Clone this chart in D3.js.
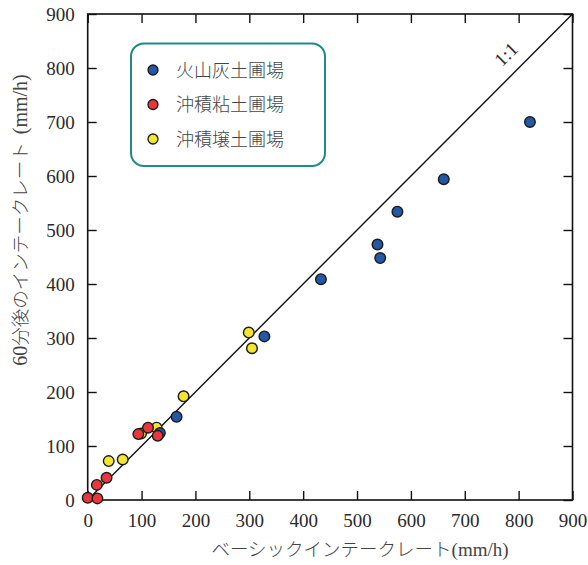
<!DOCTYPE html>
<html><head><meta charset="utf-8">
<script src="https://cdn.jsdelivr.net/npm/d3@7"></script>
<style>body{margin:0;background:#fff}</style>
</head><body>
<svg id="c" width="588" height="565"></svg>
<script>
const seriesNames = ["火山灰土圃場", "沖積粘土圃場", "沖積壌土圃場"];
const seriesColors = ["#2457a6", "#e8383d", "#f2e62e"];
// [basic intake rate, 60-min intake rate]
const volcanicX = [821, 661, 575, 538, 543, 433, 328, 165, 134];
const volcanicY = [700, 594, 534, 473, 448, 409, 303, 154, 124];
const clayX = [112, 94, 130, 35, 17, 0, 18];
const clayY = [134, 122, 119, 41, 28, 4, 3];
const loamX = [299, 305, 178, 128, 99, 65, 39];
const loamY = [310, 281, 192, 134, 123, 75, 72];
const ticks = [0, 100, 200, 300, 400, 500, 600, 700, 800, 900];

const svg = d3.select("#c");
const L = 87.7, R = 572.5, T = 14, B = 500;
const x = d3.scaleLinear().domain([0, 900]).range([L, R]);
const y = d3.scaleLinear().domain([0, 900]).range([B, T]);
const serif = "'Liberation Serif', serif";
const jp = "'Noto Sans CJK JP', sans-serif";

// 1:1 line
svg.append("line").attr("x1", x(0)).attr("y1", y(0)).attr("x2", x(900)).attr("y2", y(900))
  .attr("stroke", "#111").attr("stroke-width", 1.4);

// axes (ticks inward on all sides)
const tl = 9;
svg.append("g").attr("transform", `translate(0,${B})`)
  .call(d3.axisBottom(x).tickValues(ticks).tickSize(-tl).tickPadding(14))
  .call(g => g.select(".domain").remove());
svg.append("g").attr("transform", `translate(${L},0)`)
  .call(d3.axisLeft(y).tickValues(ticks).tickSize(-tl).tickPadding(13))
  .call(g => g.select(".domain").remove());
svg.append("g").attr("transform", `translate(0,${T})`)
  .call(d3.axisTop(x).tickValues(ticks).tickSize(-tl).tickFormat(""))
  .call(g => g.select(".domain").remove());
svg.append("g").attr("transform", `translate(${R},0)`)
  .call(d3.axisRight(y).tickValues(ticks).tickSize(-tl).tickFormat(""))
  .call(g => g.select(".domain").remove());
svg.selectAll("g").attr("font-family", null).attr("font-size", null);
svg.selectAll(".tick line").attr("stroke", "#111").attr("stroke-width", 1.4);
svg.selectAll(".tick text").style("font-family", serif).style("font-size", "19px").attr("fill", "#2a2a2a");
svg.append("rect").attr("x", L).attr("y", T).attr("width", R - L).attr("height", B - T)
  .attr("fill", "none").attr("stroke", "#111").attr("stroke-width", 1.6);

// points
const sets = [[volcanicX, volcanicY], [clayX, clayY], [loamX, loamY]];
const order = [2, 0, 1];
order.forEach(i => {
  const [xs, ys] = sets[i];
  svg.append("g").selectAll("circle").data(xs.map((v, k) => [v, ys[k]])).join("circle")
    .attr("cx", d => x(d[0])).attr("cy", d => y(d[1])).attr("r", 5.3)
    .attr("fill", seriesColors[i]).attr("stroke", "#1a1a1a").attr("stroke-width", 1.4);
});

// 1:1 label
svg.append("text").attr("transform", `translate(${x(785)},${y(817)}) rotate(-45)`)
  .attr("text-anchor", "middle").style("font-family", serif).style("font-size", "19px").attr("fill", "#2a2a2a")
  .text("1:1");

// legend
svg.append("rect").attr("x", 131).attr("y", 43.5).attr("width", 194).attr("height", 122.5)
  .attr("rx", 13).attr("fill", "#fff").attr("stroke", "#1f8a86").attr("stroke-width", 2);
seriesNames.forEach((n, i) => {
  const cy = 70 + i * 34.5;
  svg.append("circle").attr("cx", 153).attr("cy", cy).attr("r", 5)
    .attr("fill", seriesColors[i]).attr("stroke", "#1a1a1a").attr("stroke-width", 1.3);
  svg.append("text").attr("x", 176).attr("y", cy + 6.5).style("font-family", jp)
    .style("font-size", "18px").attr("font-weight", 300).attr("fill", "#444").text(n);
});

// axis titles
const xt = svg.append("text").attr("x", 360).attr("y", 556).attr("text-anchor", "middle")
  .style("font-family", jp).style("font-size", "18.5px").attr("font-weight", 300).attr("fill", "#444");
xt.append("tspan").text("ベーシックインテークレート");
xt.append("tspan").style("font-family", serif).style("font-size", "19px").text("(mm/h)");

const yt = svg.append("text").attr("transform", `translate(27,220) rotate(-90)`).attr("text-anchor", "middle")
  .style("font-family", jp).style("font-size", "18.5px").attr("font-weight", 300).attr("fill", "#444");
yt.append("tspan").style("font-family", serif).style("font-size", "20px").text("60");
yt.append("tspan").text("分後のインテークレート");
yt.append("tspan").style("font-family", serif).style("font-size", "20px").attr("dx", 8).text("(mm/h)");
</script>
</body></html>
